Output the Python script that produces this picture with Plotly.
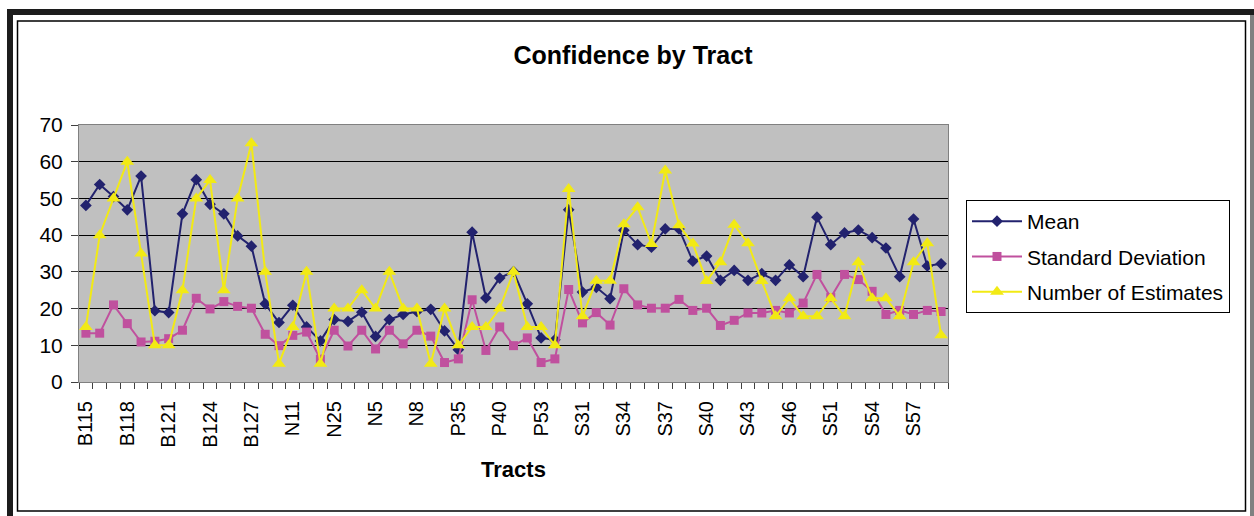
import plotly.graph_objects as go

# ---------------- data ----------------
tracts = [
    "B115", "B116", "B117", "B118", "B119", "B120", "B121", "B122", "B123", "B124",
    "B125", "B126", "B127", "B128", "B129", "N11", "N12", "N2", "N25", "N3",
    "N4", "N5", "N6", "N7", "N8", "N9", "P34", "P35", "P36", "P38",
    "P40", "P41", "P45", "P53", "P54", "S30", "S31", "S32", "S33", "S34",
    "S35", "S36", "S37", "S38", "S39", "S40", "S41", "S42", "S43", "S44",
    "S45", "S46", "S47", "S50", "S51", "S52", "S53", "S54", "S55", "S56",
    "S57", "S58", "S59",
]
shown_labels = ["B115", "B118", "B121", "B124", "B127", "N11", "N25", "N5", "N8", "P35",
                "P40", "P53", "S31", "S34", "S37", "S40", "S43", "S46", "S51", "S54", "S57"]

mean = [48.1, 53.8, 50.5, 46.9, 56.1, 19.4, 18.9, 45.8, 55.1, 48.4,
        45.8, 39.8, 37.0, 21.3, 16.2, 20.9, 15.0, 11.2, 17.0, 16.5,
        19.0, 12.4, 17.0, 18.4, 19.2, 19.8, 13.9, 8.8, 40.8, 22.9,
        28.3, 30.1, 21.3, 12.0, 11.5, 46.9, 24.5, 25.8, 22.7, 41.3,
        37.4, 36.7, 41.7, 41.7, 32.9, 34.3, 27.7, 30.4, 27.7, 29.5,
        27.7, 31.9, 28.7, 44.9, 37.4, 40.6, 41.4, 39.3, 36.5, 28.7,
        44.4, 31.6, 32.2]
std_dev = [13.3, 13.3, 21.0, 15.9, 10.9, 11.1, 11.8, 14.1, 22.8, 19.9,
           21.9, 20.6, 20.1, 13.0, 9.9, 12.7, 13.6, 6.2, 14.1, 9.8,
           14.1, 9.0, 14.1, 10.4, 14.1, 12.5, 5.3, 6.3, 22.4, 8.6,
           15.0, 9.9, 12.0, 5.3, 6.3, 25.2, 16.1, 18.9, 15.5, 25.4,
           21.0, 20.1, 20.1, 22.5, 19.5, 20.1, 15.4, 16.8, 18.8, 18.8,
           19.5, 18.8, 21.5, 29.3, 23.0, 29.3, 27.9, 24.7, 18.4, 19.5,
           18.4, 19.5, 19.2]
n_estimates = [15, 40, 50, 60, 35, 10, 10, 25, 50, 55,
               25, 50, 65, 30, 5, 15, 30, 5, 20, 20,
               25, 20, 30, 20, 20, 5, 20, 10, 15, 15,
               20, 30, 15, 15, 10, 52.6, 17.9, 27.6, 27.6, 43.0,
               47.6, 37.6, 57.6, 42.7, 37.7, 27.5, 32.6, 42.8, 37.8, 27.5,
               17.9, 22.8, 17.9, 17.9, 22.8, 17.9, 32.6, 22.8, 22.8, 17.9,
               32.6, 37.8, 12.7]

# ---------------- layout geometry ----------------
W, H = 1254, 516
L, R, T, B = 79, 306, 125, 134
PW, PH = W - L - R, H - T - B


def fx(px):
    return (px - L) / PW


def fy(py):
    return (H - B - py) / PH


FONT = "Arial, Liberation Sans, sans-serif"
NAVY = "#22226E"
PINK = "#C0509E"
YELLOW = "#F2EA14"

fig = go.Figure()
fig.add_trace(go.Scatter(
    x=tracts, y=mean, name="Mean", mode="lines+markers", legendgroup="a",
    line=dict(color=NAVY, width=2),
    marker=dict(symbol="diamond", size=9, color=NAVY),
))
fig.add_trace(go.Scatter(
    x=tracts, y=std_dev, name="Standard Deviation", mode="lines+markers", legendgroup="b",
    line=dict(color=PINK, width=2),
    marker=dict(symbol="square", size=9, color=PINK),
))
fig.add_trace(go.Scatter(
    x=tracts, y=n_estimates, name="Number of Estimates", mode="lines+markers", legendgroup="c",
    line=dict(color=YELLOW, width=2),
    marker=dict(symbol="triangle-up", size=12, color=YELLOW),
))

ticktext = [t if t in shown_labels else "" for t in tracts]

fig.update_layout(
    width=W, height=H,
    margin=dict(l=L, r=R, t=T, b=B, autoexpand=False),
    paper_bgcolor="white",
    plot_bgcolor="#C0C0C0",
    font=dict(family=FONT, size=20, color="black"),
    title=dict(
        text="Confidence by Tract",
        x=633 / W, xref="container", xanchor="center",
        y=1 - 55 / H, yref="container", yanchor="middle",
        font=dict(family=FONT, size=25, color="black", weight="bold"),
    ),
    showlegend=True,
    legend=dict(
        x=fx(966), y=fy(200), xanchor="left", yanchor="top",
        bordercolor="black", borderwidth=1, bgcolor="white",
        font=dict(family=FONT, size=21, color="black"),
        tracegroupgap=5, itemwidth=50,
    ),
    xaxis=dict(
        type="category", categoryorder="array", categoryarray=tracts,
        range=[-0.5, len(tracts) - 0.5],
        tickmode="array", tickvals=tracts, ticktext=ticktext,
        tickson="boundaries", ticks="outside", ticklen=6, tickcolor="#404040",
        ticklabelstandoff=10,
        tickangle=-90, tickfont=dict(family=FONT, size=20, color="black"),
        showgrid=False, showline=True, linecolor="#808080", linewidth=1, mirror=True,
        title=dict(text="Tracts", standoff=14,
                   font=dict(family=FONT, size=22, color="black", weight="bold")),
    ),
    yaxis=dict(
        range=[0, 70], dtick=10, tick0=0,
        ticks="outside", ticklen=7, tickcolor="#404040", ticklabelstandoff=4,
        tickfont=dict(family=FONT, size=21, color="black"),
        showgrid=True, gridcolor="black", gridwidth=1, zeroline=False,
        showline=True, linecolor="#808080", linewidth=1, mirror=True,
    ),
    shapes=[
        # outer frame
        dict(type="rect", xref="paper", yref="paper", x0=fx(7), x1=fx(13), y0=fy(9), y1=fy(520),
             fillcolor="#1c1c1c", line=dict(width=0), layer="above"),
        dict(type="rect", xref="paper", yref="paper", x0=fx(7), x1=fx(1254), y0=fy(9), y1=fy(15),
             fillcolor="#1c1c1c", line=dict(width=0), layer="above"),
        dict(type="rect", xref="paper", yref="paper", x0=fx(1250), x1=fx(1254), y0=fy(15), y1=fy(520),
             fillcolor="#808080", line=dict(width=0), layer="above"),
        # inner chart-area border
        dict(type="rect", xref="paper", yref="paper", x0=fx(17.5), x1=fx(1245.5), y0=fy(21), y1=fy(511),
             line=dict(color="black", width=1.5), fillcolor="rgba(0,0,0,0)", layer="above"),
    ],
)

fig.write_html(
    "out.html",
    config={"displayModeBar": False},
    post_script="document.body.style.margin='0';document.body.style.overflow='hidden';",
)
